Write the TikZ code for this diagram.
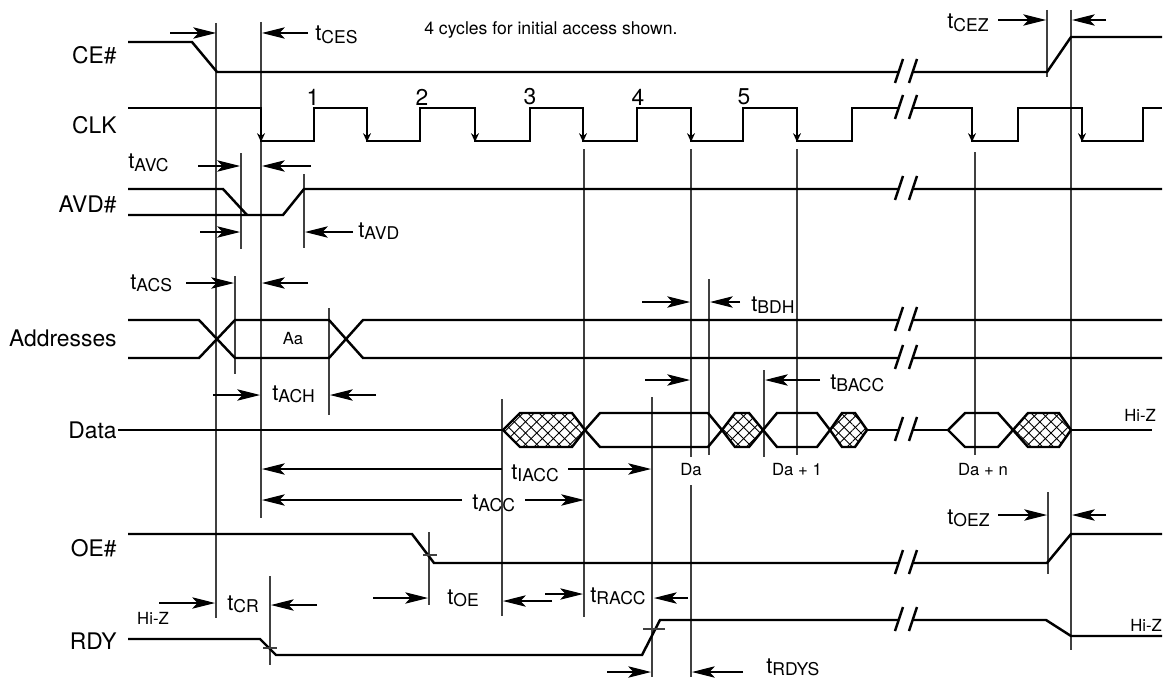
\documentclass[tikz,border=0pt]{standalone}
\usepackage{fontspec}
\setmainfont{TeX Gyre Heros}
\usepackage{tikz}
\usetikzlibrary{arrows.meta, patterns.meta}

\tikzset{
  sig/.style={line width=1.4pt, line join=miter},
  guide/.style={line width=0.6pt, black!75},
  dim/.style={line width=0.6pt, -{Stealth[length=13pt,width=6.5pt,inset=3pt]}},
  clkarr/.style={line width=1.4pt, -{Stealth[length=5pt,width=4.5pt]}},
  hatched/.style={pattern={Lines[angle=45,distance=4.5pt,line width=0.5pt]},
    postaction={pattern={Lines[angle=-45,distance=4.5pt,line width=0.5pt]}}},
  signame/.style={anchor=east, inner sep=0pt, font=\fontsize{13}{15}\selectfont},
  small/.style={inner sep=0pt, font=\fontsize{9.5}{11}\selectfont},
  tlab/.style={anchor=base west, inner sep=0pt},
}
\newcommand{\tsub}[1]{{\fontsize{12.5}{14}\selectfont t}\raisebox{-1.7pt}{\fontsize{10}{12}\selectfont #1}}
% break mark on a signal at height #1
\newcommand{\brk}[1]{%
  \fill[white] (895,#1+11) -- (903,#1-13) -- (917,#1-13) -- (909,#1+11) -- cycle;
  \draw[sig] (895,#1+11) -- (903,#1-13) (909,#1+11) -- (917,#1-13);}
% data eye: style, left point, top left, top right, right point
\newcommand{\eye}[5]{\draw[sig,#1] (#2,430) -- (#3,413) -- (#4,413) -- (#5,430) -- (#4,447) -- (#3,447) -- cycle;}

\begin{document}
\begin{tikzpicture}[x=0.02cm, y=-0.02cm]
\useasboundingbox (0,0) rectangle (1163,679);

% reference lines
\draw[guide] (216,23) -- (216,618);
\draw[guide] (261,22) -- (261,518);
\draw[guide] (241,153) -- (241,249);
\draw[guide] (304,174) -- (304,248);
\draw[guide] (235,276) -- (235,374);
\draw[guide] (329,308) -- (329,415);
\draw[guide] (502,399) -- (502,616);
\draw[guide] (584,149) -- (584,617);
\draw[guide] (652,397) -- (652,677);
\draw[guide] (691,149) -- (691,457) (691,485) -- (691,677);
\draw[guide] (709,279) -- (709,455);
\draw[guide] (764,370) -- (764,457);
\draw[guide] (797,149) -- (797,455);
\draw[guide] (975,152) -- (975,455);
\draw[guide] (1071,10) -- (1071,650);
\draw[guide] (1047,10) -- (1047,77);
\draw[guide] (1048,492) -- (1048,574);
\draw[guide] (429,532) -- (429,605);
\draw[guide] (270,576) -- (270,665);

% signal names
\node[signame] (ce) at (117,55) {CE\#};
\node[signame] (clk) at (117,125) {CLK};
\node[signame] (avd) at (117,204) {AVD\#};
\node[signame] (addr) at (117,338) {Addresses};
\node[signame] (data) at (117,430) {Data};
\node[signame] (oe) at (117,548) {OE\#};
\node[signame] (rdy) at (117,641) {RDY};

% CE#
\draw[sig] (128,42) -- (192,42) -- (217,72) -- (1047,72) -- (1071,37) -- (1162,37);
% CLK
\draw[sig] (128,108) -- (261,108) -- (261,141) -- (314,141) -- (314,108) -- (367,108)
  -- (367,141) -- (420,141) -- (420,108) -- (475,108) -- (475,141) -- (530,141)
  -- (530,108) -- (583,108) -- (583,141) -- (637,141) -- (637,108) -- (691,108)
  -- (691,141) -- (743,141) -- (743,108) -- (797,108) -- (797,141) -- (852,141)
  -- (852,108) -- (972,108) -- (972,141) -- (1018,141) -- (1018,108) -- (1082,108)
  -- (1082,141) -- (1143,141) -- (1143,108) -- (1162,108);
\foreach \f in {261,367,475,583,691,797,972,1082}
  \draw[clkarr] (\f,125) -- (\f,142);
\foreach \r/\n in {313/1,422/2,530/3,638/4,744/5}
  \node[inner sep=0pt, font=\fontsize{13}{15}\selectfont] (c\n) at (\r,97) {\n};
% AVD#
\draw[sig] (128,189) -- (223,189) -- (247,215);
\draw[sig] (128,215) -- (283,215) -- (304,189) -- (1162,189);
% Addresses
\draw[sig] (128,320) -- (199,320) -- (235,358) -- (329,358) -- (363,320) -- (1162,320);
\draw[sig] (128,358) -- (199,358) -- (235,320) -- (329,320) -- (363,358) -- (1162,358);
\node[small] (aa) at (293,339) {Aa};
% Data
\draw[sig] (118,430) -- (503,430);
\draw[sig] (867,430) -- (948,430);
\draw[sig] (1071,430) -- (1152,430);
\eye{hatched}{503}{520}{572}{585}
\eye{}{585}{600}{708}{722}
\eye{hatched}{722}{735}{749}{763}
\eye{}{763}{777}{817}{830}
\eye{hatched}{830}{842}{855}{867}
\eye{}{948}{965}{998}{1013}
\eye{hatched}{1013}{1028}{1059}{1071}
\node[small] (da) at (691,470) {Da};
\node[small] (da1) at (797,470) {Da + 1};
\node[small] (dan) at (983,470) {Da + n};
\node[small] (hiz1) at (1140,415) {Hi-Z};
% OE#
\draw[sig] (128,534) -- (412,534) -- (434,563) -- (1047,563) -- (1071,534) -- (1162,534);
\draw[guide] (423,555) -- (437,555);
% RDY
\draw[sig] (128,639) -- (260,639) -- (276,655) -- (642,655) -- (660,620) -- (1046,620) -- (1071,636) -- (1162,636);
\draw[guide] (263,648) -- (277,648);
\draw[guide] (643,629) -- (665,629);
\node[small] (hiz2) at (153,618) {Hi-Z};
\node[small] (hiz3) at (1146,625) {Hi-Z};

% breaks
\foreach \y in {72,108,189,320,358,430,563,620} {\brk{\y}}

% timing arrows
\draw[dim] (170,33) -- (216,33);
\draw[dim] (308,33) -- (262,33);
\node[tlab] (tces) at (315,41) {\tsub{CES}};
\draw[dim] (198,166) -- (240,166);
\draw[dim] (311,166) -- (262,166);
\node[tlab] (tavc) at (128,169) {\tsub{AVC}};
\draw[dim] (200,232) -- (240,232);
\draw[dim] (353,232) -- (305,232);
\node[tlab] (tavd) at (358,237) {\tsub{AVD}};
\draw[dim] (186,283) -- (234,283);
\draw[dim] (308,283) -- (262,283);
\node[tlab] (tacs) at (130,289) {\tsub{ACS}};
\draw[dim] (213,395) -- (260,395);
\draw[dim] (376,395) -- (330,395);
\node[tlab] (tach) at (272,400) {\tsub{ACH}};
\draw[dim] (642,302) -- (690,302);
\draw[dim] (740,302) -- (710,302);
\node[tlab] (tbdh) at (751,311) {\tsub{BDH}};
\draw[dim] (645,380) -- (690,380);
\draw[dim] (820,380) -- (765,380);
\node[tlab] (tbacc) at (830,389) {\tsub{BACC}};
\draw[dim] (502,469) -- (262,469);
\draw[dim] (568,469) -- (651,469);
\node[tlab] (tiacc) at (511,479) {\tsub{IACC}};
\draw[dim] (462,500) -- (262,500);
\draw[dim] (525,500) -- (584,500);
\node[tlab] (tacc) at (472,509) {\tsub{ACC}};
\draw[dim] (159,603) -- (215,603);
\draw[dim] (317,605) -- (271,605);
\node[tlab] (tcr) at (227,610) {\tsub{CR}};
\draw[dim] (373,598) -- (428,598);
\draw[dim] (552,601) -- (503,601);
\node[tlab] (toe) at (447,604) {\tsub{OE}};
\draw[dim] (545,594) -- (583,594);
\draw[dim] (688,598) -- (654,598);
\node[tlab] (tracc) at (590,602) {\tsub{RACC}};
\draw[dim] (607,672) -- (651,672);
\draw[dim] (743,672) -- (692,672);
\node[tlab] (trdys) at (766,673) {\tsub{RDYS}};
\draw[dim] (998,20) -- (1046,20);
\draw[dim] (1106,20) -- (1072,20);
\node[tlab] (tcez) at (947,29) {\tsub{CEZ}};
\draw[dim] (998,515) -- (1047,515);
\draw[dim] (1106,515) -- (1072,515);
\node[tlab] (toez) at (947,524) {\tsub{OEZ}};

\node[anchor=west, inner sep=0pt, font=\fontsize{10}{12}\selectfont] (note) at (424,30) {4 cycles for initial access shown.};
\end{tikzpicture}
\end{document}
